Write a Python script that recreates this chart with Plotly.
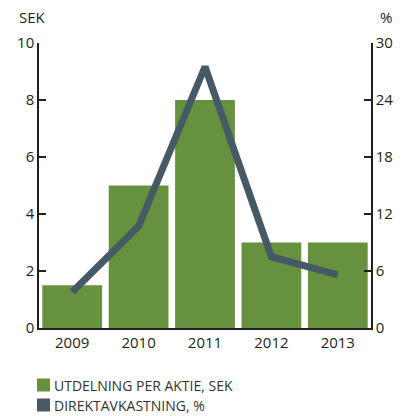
import plotly.graph_objects as go

years = ["2009", "2010", "2011", "2012", "2013"]
dividend_sek = [1.5, 5, 8, 3, 3]
yield_pct = [3.8, 10.7, 27.5, 7.5, 5.6]
series_names = ["UTDELNING PER AKTIE, SEK", "DIREKTAVKASTNING, %"]

green = "#66913f"
slate = "#465a66"
ink = "#231f20"

# the page body adds an 8px margin, so the figure is 8px smaller and shifted
PAD = 8
W, H = 403 - PAD, 416 - PAD
# plot area in page pixels: x 39..371, y 43..328
L, R, T, B = 39 - PAD, 32, 43 - PAD, 88
pw, ph = 332, 285


def px_x(x):
    return (x - 39) / pw


def px_y(y):
    return (328 - y) / ph


fig = go.Figure()
fig.add_bar(
    x=years,
    y=dividend_sek,
    name=series_names[0],
    marker=dict(color=green, line=dict(width=0)),
)
fig.add_scatter(
    x=years,
    y=yield_pct,
    yaxis="y2",
    mode="lines",
    name=series_names[1],
    line=dict(color=slate, width=7),
)

axis_common = dict(
    showline=True,
    linecolor=ink,
    linewidth=1.5,
    ticks="inside",
    ticklen=7,
    tickwidth=1.5,
    tickcolor=ink,
    showgrid=False,
    zeroline=False,
    tickfont=dict(size=15),
)

# legend drawn by hand: square swatches right next to the text
shapes = []
annotations = []
for i, (name, color) in enumerate(zip(series_names, [green, slate])):
    cy = 385 + 20 * i
    shapes.append(dict(
        type="rect", xref="paper", yref="paper",
        x0=px_x(37), x1=px_x(50), y0=px_y(cy + 6.5), y1=px_y(cy - 6.5),
        fillcolor=color, line=dict(width=0),
    ))
    annotations.append(dict(
        text=name, xref="paper", yref="paper", x=px_x(52), y=px_y(cy),
        xanchor="left", yanchor="middle", showarrow=False,
        font=dict(size=14, color="#333333"),
    ))

annotations += [
    dict(text="SEK", xref="paper", yref="paper", x=px_x(32), y=px_y(17),
         xanchor="center", yanchor="middle", showarrow=False, font=dict(size=15)),
    dict(text="%", xref="paper", yref="paper", x=px_x(386), y=px_y(17),
         xanchor="center", yanchor="middle", showarrow=False, font=dict(size=15)),
]

fig.update_layout(
    width=W,
    height=H,
    margin=dict(l=L, r=R, t=T, b=B, autoexpand=False),
    plot_bgcolor="white",
    paper_bgcolor="white",
    font=dict(family="Open Sans, Lato, sans-serif", size=15, color=ink),
    showlegend=False,
    bargap=0.1,
    xaxis=dict(
        type="category",
        showline=True,
        linecolor=ink,
        linewidth=1.5,
        ticks="",
        showgrid=False,
        tickfont=dict(size=15),
        tickangle=0,
    ),
    yaxis=dict(range=[0, 10], dtick=2, **axis_common),
    yaxis2=dict(range=[0, 30], dtick=6, overlaying="y", side="right", **axis_common),
    shapes=shapes,
    annotations=annotations,
)

fig.write_html("out.html")
